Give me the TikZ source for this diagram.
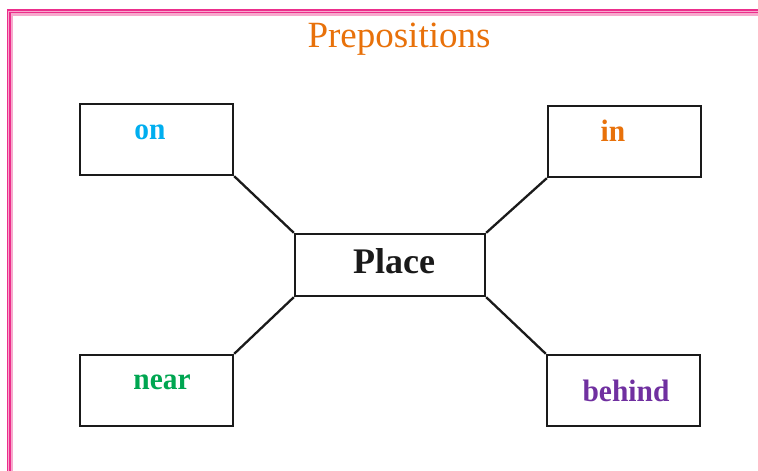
\documentclass[tikz,border=0pt]{standalone}
\usepackage{fontspec}
\usepackage{graphicx}
\setmainfont{Liberation Serif}
\definecolor{pinkdark}{HTML}{EC2E8C}
\definecolor{pinklight}{HTML}{F7A8CC}
\definecolor{cyanw}{HTML}{00AEEF}
\definecolor{orangew}{HTML}{E8710A}
\definecolor{greenw}{HTML}{00A651}
\definecolor{purplew}{HTML}{7030A0}
\definecolor{boxline}{HTML}{1A1A1A}
\tikzset{
  wordbox/.style={draw=boxline, line width=2.3pt, rectangle, minimum width=153pt, minimum height=71pt, inner sep=0pt},
  centerbox/.style={draw=boxline, line width=2.3pt, rectangle, minimum width=190pt, minimum height=62pt, inner sep=0pt},
  word/.style={anchor=base, inner sep=0pt, font=\fontsize{31}{36}\selectfont\bfseries},
  link/.style={draw=boxline, line width=2.3pt}
}
\begin{document}
\begin{tikzpicture}[x=1pt,y=-1pt]
\useasboundingbox (0,0) rectangle (758,471);
% border
\fill[pinklight] (7,9) rectangle (760,15.5);
\fill[pinklight] (7,9) rectangle (12.5,472);
\draw[pinkdark, line width=1.3pt] (7.6,472) -- (7.6,10) -- (760,10);
\draw[pinkdark, line width=1.3pt] (9.9,472) -- (9.9,12.3) -- (760,12.3);
% title
\node[anchor=base, inner sep=0pt, text=orangew, font=\fontsize{37}{44}\selectfont] (title) at (399,47) {Prepositions};
% boxes
\node[wordbox] (on) at (156.5,139.5) {};
\node[wordbox] (in) at (624.5,141.5) {};
\node[wordbox] (near) at (156.5,390.5) {};
\node[wordbox] (behind) at (623.5,390.5) {};
\node[centerbox] (place) at (390,265) {};
% labels
\node[word, text=cyanw] (onlbl) at (150,139) {\scalebox{0.95}[1]{on}};
\node[word, text=orangew] (inlbl) at (613,141) {\scalebox{0.95}[1]{in}};
\node[word, text=greenw] (nearlbl) at (162,389) {\scalebox{0.95}[1]{near}};
\node[word, text=purplew] (behindlbl) at (626,401) {\scalebox{0.95}[1]{behind}};
\node[anchor=base, inner sep=0pt, text=boxline, font=\fontsize{36}{42}\selectfont\bfseries] (placelbl) at (394,273) {Place};
% connectors
\draw[link] (on.south east) -- (place.north west);
\draw[link] (in.south west) -- (place.north east);
\draw[link] (near.north east) -- (place.south west);
\draw[link] (behind.north west) -- (place.south east);
\end{tikzpicture}
\end{document}
